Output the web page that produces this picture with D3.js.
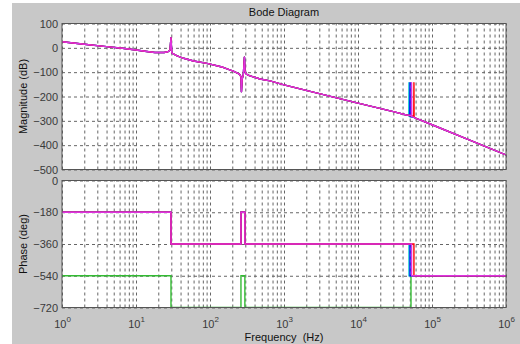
<!DOCTYPE html>
<html><head><meta charset="utf-8">
<script src="https://cdn.jsdelivr.net/npm/d3@7"></script>
<style>
html,body{margin:0;padding:0;background:#fff;}
svg{display:block;font-family:"Liberation Sans",Arial,sans-serif;}
</style></head>
<body>
<svg id="chart" width="520" height="344"></svg>
<script>
// ---------- data ----------
const title = "Bode Diagram";
const magLabel = "Magnitude (dB)";
const phaseLabel = "Phase (deg)";
const freqLabel = "Frequency  (Hz)";

const xTickExp = [0, 1, 2, 3, 4, 5, 6];
const magTicks = [100, 0, -100, -200, -300, -400, -500];
const phaseTicks = [0, -180, -360, -540, -720];

// shared magnitude curve (low frequency part), Hz / dB
const magFreqLow = [1, 2, 4, 7, 10, 14, 18, 24, 27, 28.8, 29.7, 30.4, 31, 36, 44, 60, 91, 150, 210, 250, 262, 266, 272, 282, 292, 297, 310, 340, 474, 646, 1000, 3000, 10000, 30000, 45000];
const magDbLow   = [25, 15, 5, -3, -9, -15, -19, -19, -16, -10, 42, -18, -23, -33, -43, -54, -64, -80, -97, -108, -118, -180, -128, -110, -38, -95, -108, -114, -128, -136, -152, -188, -227, -262, -276];
// shared magnitude curve (high frequency part)
const magFreqHigh = [63000, 69000, 100000, 300000, 1000000];
const magDbHigh   = [-292, -296, -316, -375, -440];

// resonance segments of each series
const spikeFreqCyan    = [47500, 48600, 48900, 49200, 52000, 58000];
const spikeDbCyan      = [-277, -278, -143, -282, -283, -287];
const spikeFreqBlue    = [49000, 50200, 50500, 50800, 53000, 58000];
const spikeDbBlue      = [-277, -278, -143, -282, -283, -287];
const spikeFreqMagenta = [50000, 52700, 53000, 53300, 56000, 59000];
const spikeDbMagenta   = [-277, -279, -143, -283, -285, -288];
const spikeFreqRed     = [52000, 56700, 57000, 57300, 59000, 61000];
const spikeDbRed       = [-279, -280, -143, -285, -287, -290];

// phase step curves, Hz / deg
const phaseFreqBase = [1, 29.7, 29.7, 262, 262, 296, 296];
const phaseDegTop   = [-180, -180, -360, -360, -180, -180, -360];
const phaseDegLow   = [-540, -540, -720, -720, -540, -540, -720];
const phaseDropCyan    = 48900;
const phaseDropBlue    = 50500;
const phaseDropMagenta = 53000;
const phaseDropRed     = 57000;
const phaseDropGreen   = 52000;
const phaseEndFreq = 1000000;

const seriesColors = {cyan: "#00c8c8", blue: "#0000ff", red: "#ff0000", magenta: "#e033e0", green: "#33bb33"};

// ---------- layout ----------
const svg = d3.select("#chart");
const W = 520, H = 344;
const left = 62, right = 506;
const magTop = 23.5, magBottom = 169.5;
const phTop = 180.5, phBottom = 307.5;
const textColor = "#3a3a3a";
const fontSize = 11;

svg.append("rect").attr("x", 12).attr("y", 3).attr("width", W - 12).attr("height", H - 3).attr("fill", "#c8c8c8");

const x = d3.scaleLog().domain([1, 1e6]).range([left, right]);
const yMag = d3.scaleLinear().domain([-500, 100]).range([magBottom, magTop]);
const yPh = d3.scaleLinear().domain([-720, 0]).range([phBottom, phTop]);

function drawAxes(y, top, bottom, yTicks, clipId) {
  const g = svg.append("g");
  g.append("rect").attr("x", left).attr("y", top).attr("width", right - left).attr("height", bottom - top).attr("fill", "#fff");
  // vertical grid (major + minor)
  const gx = g.append("g").attr("transform", `translate(0,${bottom})`)
    .call(d3.axisBottom(x).tickValues(x.ticks()).tickSize(-(bottom - top)).tickFormat(""));
  gx.select(".domain").remove();
  gx.selectAll("line").attr("stroke", "#666").attr("stroke-dasharray", "3,3").attr("stroke-width", 1);
  // horizontal grid
  const gy = g.append("g").attr("transform", `translate(${left},0)`)
    .call(d3.axisLeft(y).tickValues(yTicks).tickSize(-(right - left)).tickFormat(""));
  gy.select(".domain").remove();
  gy.selectAll("line").attr("stroke", "#666").attr("stroke-dasharray", "3,3").attr("stroke-width", 1);
  // y tick labels
  const gl = g.append("g").attr("transform", `translate(${left},0)`)
    .call(d3.axisLeft(y).tickValues(yTicks).tickSize(0).tickPadding(4).tickFormat(d3.format("d")));
  gl.select(".domain").remove();
  gl.selectAll("text").attr("fill", textColor).style("font-size", fontSize + "px").style("font-family", '"Liberation Sans",Arial,sans-serif');
  svg.append("clipPath").attr("id", clipId).append("rect")
    .attr("x", left).attr("y", top).attr("width", right - left).attr("height", bottom - top);
  return g;
}

function drawBox(top, bottom) {
  svg.append("rect").attr("x", left).attr("y", top).attr("width", right - left).attr("height", bottom - top)
    .attr("fill", "none").attr("stroke", "#555").attr("stroke-width", 1);
}

drawAxes(yMag, magTop, magBottom, magTicks, "clipMag");
drawAxes(yPh, phTop, phBottom, phaseTicks, "clipPh");

// ---------- magnitude lines ----------
function zip(fs, vs) { return fs.map((f, i) => [f, vs[i]]); }
function magSeries(sf, sd) {
  return zip(magFreqLow, magDbLow).concat(zip(sf, sd), zip(magFreqHigh, magDbHigh));
}
const magLine = d3.line().x(d => x(d[0])).y(d => yMag(d[1]));
const magData = [
  {c: seriesColors.cyan, d: magSeries(spikeFreqCyan, spikeDbCyan)},
  {c: seriesColors.blue, d: magSeries(spikeFreqBlue, spikeDbBlue)},
  {c: seriesColors.red, d: magSeries(spikeFreqRed, spikeDbRed)},
  {c: seriesColors.magenta, d: magSeries(spikeFreqMagenta, spikeDbMagenta)}
];
const gm = svg.append("g").attr("clip-path", "url(#clipMag)");
gm.selectAll("path").data(magData).join("path")
  .attr("d", s => magLine(s.d)).attr("fill", "none").attr("stroke", s => s.c)
  .attr("stroke-width", 1.4).attr("stroke-linejoin", "round");

// ---------- phase lines ----------
function phaseSeries(base, drop, endDeg) {
  const pts = zip(phaseFreqBase, base);
  const last = base[base.length - 1];
  return pts.concat([[drop, last], [drop, endDeg], [phaseEndFreq, endDeg]]);
}
const phLine = d3.line().x(d => x(d[0])).y(d => yPh(d[1]));
const phData = [
  {c: seriesColors.green, d: phaseSeries(phaseDegLow, phaseDropGreen, -540)},
  {c: seriesColors.cyan, d: phaseSeries(phaseDegTop, phaseDropCyan, -540)},
  {c: seriesColors.blue, d: phaseSeries(phaseDegTop, phaseDropBlue, -540)},
  {c: seriesColors.red, d: phaseSeries(phaseDegTop, phaseDropRed, -540)},
  {c: seriesColors.magenta, d: phaseSeries(phaseDegTop, phaseDropMagenta, -540)}
];
const gp = svg.append("g").attr("clip-path", "url(#clipPh)");
gp.selectAll("path").data(phData).join("path")
  .attr("d", s => phLine(s.d)).attr("fill", "none").attr("stroke", s => s.c)
  .attr("stroke-width", 1.4);

drawBox(magTop, magBottom);
drawBox(phTop, phBottom);

// ---------- x tick labels ----------
const gxl = svg.append("g").attr("transform", `translate(0,${phBottom})`)
  .call(d3.axisBottom(x).tickValues(xTickExp.map(e => Math.pow(10, e))).tickSize(0).tickPadding(0).tickFormat(""));
gxl.select(".domain").remove();
gxl.selectAll(".tick").each(function(d, i) {
  const t = d3.select(this).append("text").attr("fill", textColor)
    .style("font-size", fontSize + "px").attr("y", 20).attr("text-anchor", "middle");
  t.append("tspan").text("10");
  t.append("tspan").attr("dy", -6).style("font-size", "8px").text(xTickExp[i]);
});

// ---------- titles ----------
svg.append("text").attr("x", (left + right) / 2).attr("y", 16).attr("text-anchor", "middle")
  .attr("fill", "#111").style("font-size", fontSize + "px").text(title);
svg.append("text").attr("transform", `translate(27,${(magTop + magBottom) / 2}) rotate(-90)`)
  .attr("text-anchor", "middle").attr("fill", "#111").style("font-size", fontSize + "px").text(magLabel);
svg.append("text").attr("transform", `translate(27,${(phTop + phBottom) / 2}) rotate(-90)`)
  .attr("text-anchor", "middle").attr("fill", "#111").style("font-size", fontSize + "px").text(phaseLabel);
svg.append("text").attr("x", (left + right) / 2).attr("y", 341).attr("text-anchor", "middle")
  .attr("fill", "#111").style("font-size", fontSize + "px").attr("xml:space", "preserve").style("white-space", "pre").text(freqLabel);
</script>
</body></html>
